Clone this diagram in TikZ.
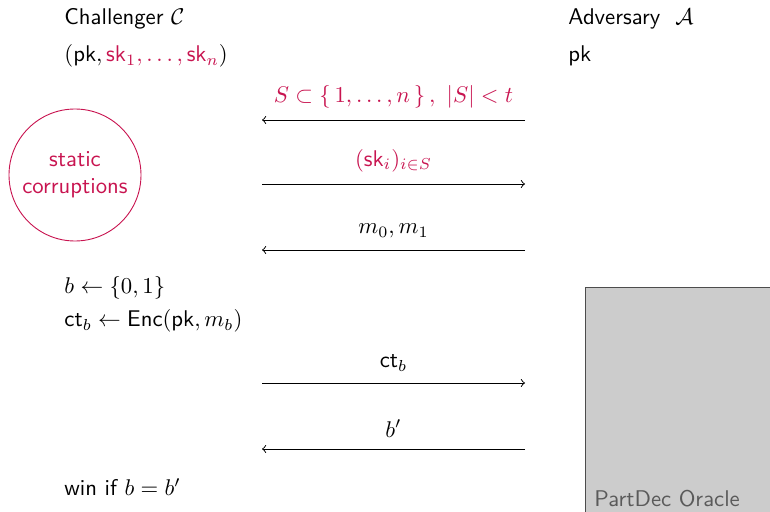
\documentclass[tikz,border=0pt]{standalone}
\usepackage{amsmath}
\usetikzlibrary{positioning, arrows}
\definecolor{corruptred}{RGB}{200,20,80}
\definecolor{oraclegray}{RGB}{204,204,204}
\definecolor{oracletext}{RGB}{90,90,90}
\tikzset{
	partytext/.style={anchor=west, inner sep=0pt, font=\sffamily}
}
\tikzset{
	msg/.style={->, thin},
	msglabel/.style={above=3pt, inner sep=2pt, font=\sffamily}
}
\newcommand{\keyname}[1]{\mathsf{#1}}

\begin{document}
\begin{tikzpicture}[x=0.44pt, y=-0.44pt]
  \clip (0,0) rectangle (770,512);
  % the two parties
  \node[partytext] (chal) at (64,19) {Challenger $\mathcal{C}$};
  \node[partytext] (keys) at (64,56) {$(\keyname{pk},
    {\color{corruptred}\keyname{sk}_1,\dots,\keyname{sk}_n})$};
  \node[partytext] (adv) at (568,19) {Adversary \ $\mathcal{A}$};
  \node[partytext] (advpk) at (568,56) {$\keyname{pk}$};
  % end points of the messages
  \coordinate (c1) at (262,120);  \coordinate (a1) at (525,120);
  \coordinate (c2) at (262,184);  \coordinate (a2) at (525,184);
  \coordinate (c3) at (262,250);  \coordinate (a3) at (525,250);
  \coordinate (c4) at (262,383);  \coordinate (a4) at (525,383);
  \coordinate (c5) at (262,449);  \coordinate (a5) at (525,449);
  \node[circle, draw=corruptred, text=corruptred, minimum size=132*0.44pt,
    align=center, font=\sffamily, inner sep=0pt] (corr) at (75,175)
    {static\\corruptions};
  \draw[msg] (a1) -- node[msglabel, text=corruptred]
    {$S\subset\{\,1,\dots,n\,\}\,,\ |S|<t$} (c1);
  \draw[msg] (c2) -- node[msglabel, text=corruptred]
    {$(\keyname{sk}_i)_{i\in S}$} (a2);
  \draw[msg] (a3) -- node[msglabel] {$m_0,m_1$} (c3);
  \node[partytext] (coin) at (64,288) {$b\leftarrow\{0,1\}$};
  \node[partytext] (enc) at (64,321)
    {$\keyname{ct}_b\leftarrow\keyname{Enc}(\keyname{pk},m_b)$};
  \draw[msg] (c4) -- node[msglabel] {$\keyname{ct}_b$} (a4);
  \draw[msg] (a5) -- node[msglabel] {$b'$} (c5);
  \node[partytext] (win) at (64,487) {win if $b=b'$};
  % oracle box runs off the page on the right and at the bottom
  \node[draw=black!70, fill=oraclegray, anchor=north west, inner sep=0pt,
    minimum width=220*0.44pt, minimum height=260*0.44pt] (oracle) at (585,287) {};
  \node[partytext, text=oracletext] (oraclename) at (594,499) {PartDec Oracle};
\end{tikzpicture}
\end{document}
